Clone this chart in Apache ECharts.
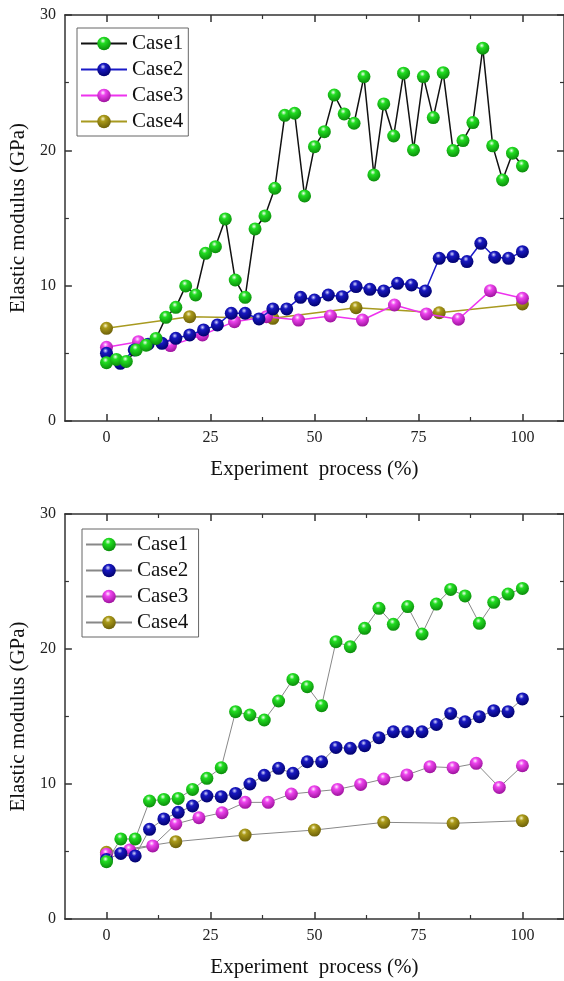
<!DOCTYPE html>
<html>
<head>
<meta charset="utf-8">
<script src="https://cdn.jsdelivr.net/npm/echarts@6/dist/echarts.min.js"></script>
<style>
  html, body { margin: 0; padding: 0; background: #fff; }
  #main { width: 564px; height: 981px; }
</style>
</head>
<body>
<div id="main"></div>
<script>
// Top panel values (GPa), evenly spaced over 0-100 % of the experiment
var topCase1 = [4.31, 4.55, 4.4, 5.25, 5.6, 6.1, 7.66, 8.4, 9.98, 9.31, 12.39, 12.88, 14.93, 10.42, 9.14,
  14.19, 15.15, 17.2, 22.59, 22.74, 16.63, 20.27, 21.38, 24.09, 22.69, 22.0, 25.45, 18.18, 23.43, 21.06,
  25.7, 20.03, 25.45, 22.42, 25.74, 19.98, 20.72, 22.05, 27.55, 20.33, 17.81, 19.79, 18.85];
var topCase2 = [5.0, 4.26, 5.25, 5.67, 5.74, 6.11, 6.36, 6.73, 7.1, 7.96, 7.96, 7.54, 8.28, 8.28, 9.14,
  8.94, 9.31, 9.19, 9.93, 9.73, 9.61, 10.17, 10.05, 9.61, 12.02, 12.15, 11.78, 13.13, 12.1, 12.02, 12.51];
var topCase3 = [5.45, 5.86, 5.57, 6.36, 7.34, 7.71, 7.46, 7.76, 7.46, 8.57, 7.91, 7.52, 9.63, 9.07];
var topCase4 = [6.85, 7.71, 7.59, 8.37, 8.0, 8.65];

// Bottom panel values (GPa)
var botCase1 = [4.25, 5.93, 5.93, 8.74, 8.86, 8.93, 9.6, 10.42, 11.21, 15.36, 15.11, 14.74, 16.15, 17.75, 17.21,
  15.8, 20.54, 20.17, 21.53, 23.01, 21.83, 23.14, 21.11, 23.33, 24.41, 23.93, 21.9, 23.46, 24.07, 24.49];
var botCase2 = [4.41, 4.86, 4.67, 6.64, 7.41, 7.9, 8.37, 9.11, 9.06, 9.3, 10.0, 10.64, 11.16, 10.79, 11.65,
  11.65, 12.71, 12.64, 12.84, 13.43, 13.87, 13.87, 13.87, 14.41, 15.23, 14.61, 14.99, 15.43, 15.36, 16.3];
var botCase3 = [4.8, 5.11, 5.41, 7.04, 7.5, 7.87, 8.64, 8.64, 9.26, 9.43, 9.6, 9.97, 10.37, 10.67, 11.28,
  11.21, 11.53, 9.75, 11.35];
var botCase4 = [4.94, 5.73, 6.22, 6.59, 7.16, 7.09, 7.28];

var seriesNames = ['Case1', 'Case2', 'Case3', 'Case4'];
var xMajorTicks = [0, 25, 50, 75, 100];
var xMinorTicks = [12.5, 37.5, 62.5, 87.5];

var FONT = "'Liberation Serif', 'Times New Roman', serif";
var AXIS_COLOR = '#333';

// ball colours: [highlight, body, rim]
var balls = [
  ['#f0fff0', '#22dd22', '#0a8a0a'],
  ['#d8d8ff', '#1818c0', '#00006a'],
  ['#fff0ff', '#ee44ee', '#9a109a'],
  ['#f8f4c8', '#aa9a1a', '#6a5e08']
];

function ball(c) {
  return {
    type: 'radial', x: 0.42, y: 0.3, r: 0.72,
    colorStops: [
      {offset: 0, color: c[0]},
      {offset: 0.28, color: c[1]},
      {offset: 1, color: c[2]}
    ]
  };
}

// evenly spaced x positions from 0 to 100
function pairs(vals) {
  return vals.map(function(v, i) { return [i * 100 / (vals.length - 1), v]; });
}

function xAxes(g) {
  var base = {gridIndex: g, type: 'value', min: -10, max: 110, splitLine: {show: false}};
  var line = {show: true, onZero: false, lineStyle: {color: AXIS_COLOR, width: 1.5}};
  return [
    Object.assign({}, base, {
      position: 'bottom',
      axisLine: line,
      axisTick: {inside: true, length: 7, customValues: xMajorTicks, lineStyle: {color: AXIS_COLOR, width: 1.5}},
      axisLabel: {customValues: xMajorTicks, fontFamily: FONT, fontSize: 16, color: '#222', margin: 9},
      name: 'Experiment  process (%)',
      nameLocation: 'middle',
      nameGap: 38,
      nameTextStyle: {fontFamily: FONT, fontSize: 21, color: '#111'}
    }),
    Object.assign({}, base, {
      position: 'bottom',
      axisLine: {show: false, onZero: false},
      axisTick: {inside: true, length: 4, customValues: xMinorTicks, lineStyle: {color: AXIS_COLOR, width: 1.2}},
      axisLabel: {show: false}
    }),
    Object.assign({}, base, {
      position: 'top',
      axisLine: line,
      axisTick: {inside: true, length: 7, customValues: xMajorTicks, lineStyle: {color: AXIS_COLOR, width: 1.5}},
      axisLabel: {show: false}
    }),
    Object.assign({}, base, {
      position: 'top',
      axisLine: {show: false, onZero: false},
      axisTick: {inside: true, length: 4, customValues: xMinorTicks, lineStyle: {color: AXIS_COLOR, width: 1.2}},
      axisLabel: {show: false}
    })
  ];
}

function yAxes(g) {
  var base = {
    gridIndex: g, type: 'value', min: 0, max: 30, interval: 10,
    splitLine: {show: false},
    axisLine: {show: true, onZero: false, lineStyle: {color: AXIS_COLOR, width: 1.5}},
    axisTick: {inside: true, length: 7, lineStyle: {color: AXIS_COLOR, width: 1.5}},
    minorTick: {show: true, splitNumber: 2, length: 4, lineStyle: {color: AXIS_COLOR, width: 1.2}},
    minorSplitLine: {show: false}
  };
  return [
    Object.assign({}, base, {
      position: 'left',
      axisLabel: {fontFamily: FONT, fontSize: 16, color: '#222', margin: 9},
      name: 'Elastic modulus (GPa)',
      nameLocation: 'middle',
      nameGap: 33,
      nameTextStyle: {fontFamily: FONT, fontSize: 21, color: '#111'}
    }),
    Object.assign({}, base, {position: 'right', axisLabel: {show: false}})
  ];
}

function makeSeries(g, data, lineColors, lineWidth) {
  return data.map(function(vals, k) {
    return {
      name: seriesNames[k],
      type: 'line',
      xAxisIndex: g * 4,
      yAxisIndex: g * 2,
      data: pairs(vals),
      symbol: 'circle',
      symbolSize: 13,
      z: 2 + (data.length - k),
      lineStyle: {color: lineColors[k], width: lineWidth},
      itemStyle: {color: ball(balls[k]), borderWidth: 0},
      emphasis: {disabled: true},
      animation: false
    };
  });
}

function legend(left, top) {
  return {
    show: true,
    orient: 'vertical',
    left: left,
    top: top,
    itemWidth: 46,
    itemHeight: 17,
    itemGap: 5,
    padding: [5, 5, 4, 3],
    borderColor: '#666',
    borderWidth: 1,
    backgroundColor: '#fff',
    textStyle: {fontFamily: FONT, fontSize: 21, color: '#111', padding: [0, 0, 0, 0]},
    selectedMode: false
  };
}

var chart = echarts.init(document.getElementById('main'), null, {renderer: 'canvas'});

var topSeries = makeSeries(0, [topCase1, topCase2, topCase3, topCase4],
  ['#111', '#1a1ac8', '#ee33ee', '#a89a20'], 1.5);
var botSeries = makeSeries(1, [botCase1, botCase2, botCase3, botCase4],
  ['#888', '#888', '#888', '#888'], 1);

// legend names must be unique per chart, so the bottom series get a trailing space
botSeries.forEach(function(s) { s.name = s.name + ' '; });

var topLegend = legend(77, 28);
topLegend.data = seriesNames.slice();
var botLegend = legend(82, 529);
botLegend.data = seriesNames.map(function(n) { return n + ' '; });

chart.setOption({
  animation: false,
  grid: [
    {left: 63, top: 15, width: 502, height: 406},
    {left: 63, top: 514, width: 502, height: 405}
  ],
  xAxis: xAxes(0).concat(xAxes(1)),
  yAxis: yAxes(0).concat(yAxes(1)),
  legend: [topLegend, botLegend],
  series: topSeries.concat(botSeries)
});
</script>
</body>
</html>
